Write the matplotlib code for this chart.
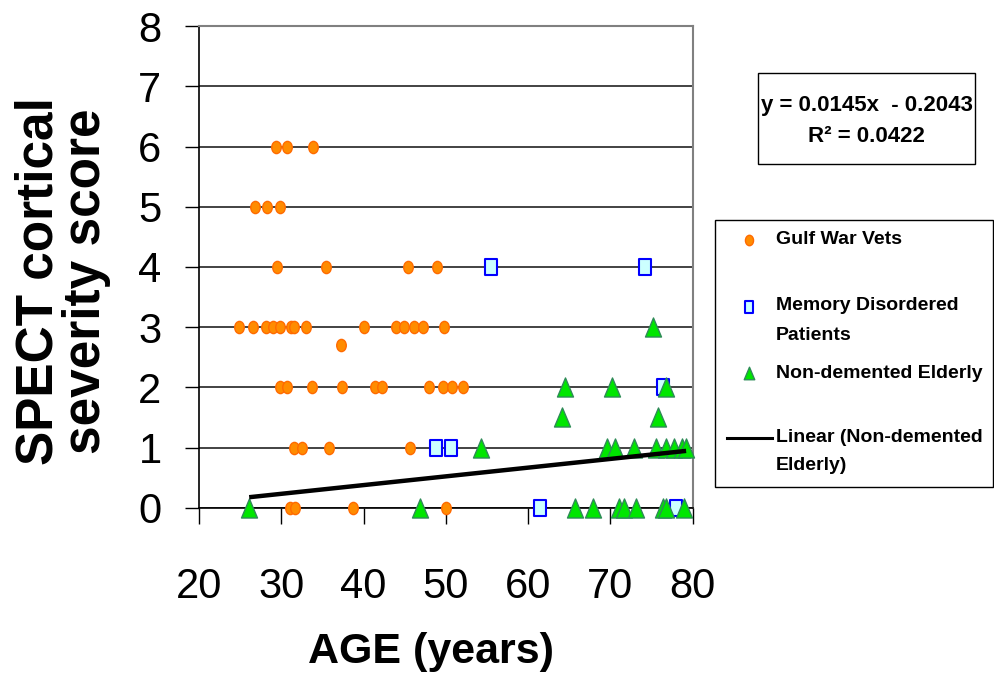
import matplotlib
matplotlib.use('Agg')
import matplotlib.pyplot as plt
import numpy as np
from matplotlib.path import Path
from matplotlib.patches import Rectangle
from matplotlib.lines import Line2D

plt.rcParams['font.family'] = ['Liberation Sans', 'DejaVu Sans']

# Gulf War Vets (age, score)
gulf_age = [29.3, 30.7, 33.9,
            26.8, 28.3, 29.9,
            29.5, 35.4, 45.4, 48.9,
            24.9, 26.6, 28.2, 29.0, 29.9, 31.2, 31.6, 33.0, 40.1, 43.9, 44.9, 46.1, 47.2, 49.8,
            37.3,
            29.8, 30.7, 33.7, 37.4, 41.4, 42.3, 47.9, 49.7, 50.7, 52.1,
            31.6, 32.5, 35.8, 45.6,
            31.0, 31.7, 38.7, 50.0]
gulf_score = [6, 6, 6,
              5, 5, 5,
              4, 4, 4, 4,
              3, 3, 3, 3, 3, 3, 3, 3, 3, 3, 3, 3, 3, 3,
              2.7,
              2, 2, 2, 2, 2, 2, 2, 2, 2, 2,
              1, 1, 1, 1,
              0, 0, 0, 0]

# Memory Disordered Patients
mem_age = [55.5, 74.2, 76.4, 48.8, 50.6, 61.5, 78.0]
mem_score = [4, 4, 2, 1, 1, 0, 0]

# Non-demented Elderly
eld_age = [75.2,
           64.5, 70.2, 76.8,
           64.1, 75.8,
           54.3, 69.6, 70.6, 72.9, 75.6, 76.8, 77.7, 78.7, 79.2,
           26.1, 46.9, 65.7, 67.9, 71.1, 71.7, 73.1, 76.4, 76.8, 79.0]
eld_score = [3,
             2, 2, 2,
             1.5, 1.5,
             1, 1, 1, 1, 1, 1, 1, 1, 1,
             0, 0, 0, 0, 0, 0, 0, 0, 0, 0]

# trend line coefficients (as printed on chart)
slope = 0.0145
intercept = -0.2043
r2 = 0.0422

W, H = 994, 678
fig = plt.figure(figsize=(W / 100, H / 100), dpi=100)
ax = fig.add_axes([199 / W, 1 - 507.7 / H, 493.7 / W, 481.4 / H])


def fx(px):
    return px / W


def fy(py):
    return 1 - py / H


# slightly tall marker shapes (the original picture is squeezed sideways)
ellipse = Path(Path.unit_circle().vertices * [0.78, 1.0], Path.unit_circle().codes)
square = Path([(-0.39, -0.5), (0.39, -0.5), (0.39, 0.5), (-0.39, 0.5), (-0.39, -0.5)],
              [Path.MOVETO, Path.LINETO, Path.LINETO, Path.LINETO, Path.CLOSEPOLY])
tri = Path([(0, 0.5), (-0.42, -0.5), (0.42, -0.5), (0, 0.5)],
           [Path.MOVETO, Path.LINETO, Path.LINETO, Path.CLOSEPOLY])

orange_fc, orange_ec = '#FF8C00', '#FF6A00'
blue_fc, blue_ec = '#CCFFFF', '#0000FF'
green_fc, green_ec = '#00E600', '#2E8B57'

ax.plot(gulf_age, gulf_score, ls='none', marker=ellipse, ms=8.8,
        mfc=orange_fc, mec=orange_ec, mew=1.0, zorder=3, clip_on=False)
ax.plot(mem_age, mem_score, ls='none', marker=square, ms=11.3,
        mfc=blue_fc, mec=blue_ec, mew=1.5, zorder=4, clip_on=False)
ax.plot(eld_age, eld_score, ls='none', marker=tri, ms=13.7,
        mfc=green_fc, mec=green_ec, mew=1.0, zorder=5, clip_on=False)

xt = np.array([min(eld_age), max(eld_age)])
ax.plot(xt, slope * xt + intercept, color='black', lw=3.2, zorder=6,
        solid_capstyle='butt')

ax.set_xlim(20, 80)
ax.set_ylim(0, 8)
ax.set_xticks(range(20, 81, 10))
ax.set_yticks(range(0, 9))
ax.yaxis.grid(True, color='#222222', lw=1.2)
ax.set_axisbelow(True)
for s in ['top', 'right']:
    ax.spines[s].set_color('#808080')
    ax.spines[s].set_linewidth(1.5)
for s in ['left', 'bottom']:
    ax.spines[s].set_color('black')
    ax.spines[s].set_linewidth(1.2)

ax.tick_params(axis='y', direction='out', length=10, width=1, pad=17, labelsize=30)
ax.tick_params(axis='x', direction='out', length=11.5, width=1, pad=31, labelsize=30)

ax.set_xlabel('AGE (years)', fontsize=31, fontweight='bold')
ax.xaxis.set_label_coords((431 - 199) / 493.7, -0.258)
ax.set_ylabel('SPECT cortical\nseverity score', fontsize=37, fontweight='bold',
              linespacing=0.95, va='center', ha='center')
ax.yaxis.set_label_coords((62.5 - 199) / 493.7, (507.7 - 281) / 481.4)

# equation box
fig.add_artist(Rectangle((fx(758), fy(164)), (975 - 758) / W, (164 - 72.7) / H,
                         transform=fig.transFigure, fill=False, ec='black', lw=1))
fig.text(fx(866.5), fy(105), f'y = {slope}x  - {abs(intercept)}', ha='center', va='center',
         fontsize=16, fontweight='bold')
fig.text(fx(866.5), fy(136), f'R² = {r2}', ha='center', va='center',
         fontsize=16, fontweight='bold')

# legend
fig.add_artist(Rectangle((fx(715), fy(487)), (993 - 715) / W, (487 - 220) / H,
                         transform=fig.transFigure, fill=False, ec='black', lw=1))
fig.add_artist(Line2D([fx(749)], [fy(240)], transform=fig.transFigure, ls='none',
                      marker=ellipse, ms=7.5, mfc=orange_fc, mec=orange_ec, mew=1))
fig.add_artist(Line2D([fx(749)], [fy(306.7)], transform=fig.transFigure, ls='none',
                      marker=square, ms=8, mfc=blue_fc, mec=blue_ec, mew=1.5))
fig.add_artist(Line2D([fx(749)], [fy(373)], transform=fig.transFigure, ls='none',
                      marker=tri, ms=9, mfc=green_fc, mec=green_ec, mew=1))
fig.add_artist(Line2D([fx(727), fx(772)], [fy(438), fy(438)], transform=fig.transFigure,
                      color='black', lw=2.2))
leg_kw = dict(ha='left', va='center', fontsize=14, fontweight='bold')
fig.text(fx(776), fy(240), 'Gulf War Vets', **leg_kw)
fig.text(fx(776), fy(306), 'Memory Disordered', **leg_kw)
fig.text(fx(776), fy(336), 'Patients', **leg_kw)
fig.text(fx(776), fy(373), 'Non-demented Elderly', **leg_kw)
fig.text(fx(776), fy(438), 'Linear (Non-demented', **leg_kw)
fig.text(fx(776), fy(465), 'Elderly)', **leg_kw)

fig.savefig('out.png', dpi=100)
